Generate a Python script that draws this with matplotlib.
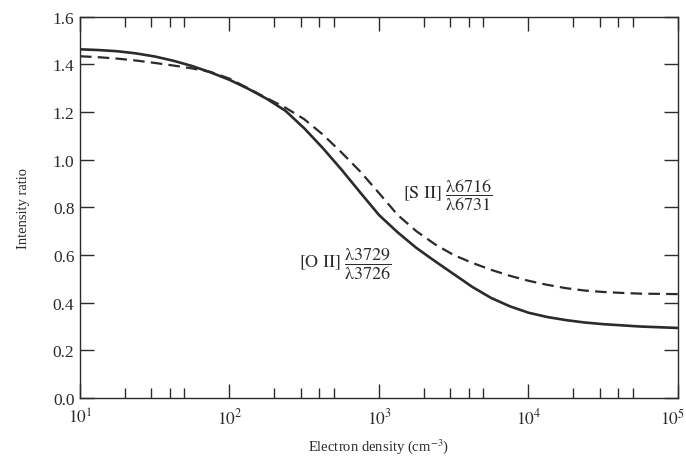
import math
import matplotlib
matplotlib.use("Agg")
import matplotlib.pyplot as plt
from matplotlib.ticker import (LogLocator, FormatStrFormatter, MultipleLocator,
                               NullFormatter, FuncFormatter)

plt.rcParams['font.family'] = ['Liberation Serif', 'DejaVu Serif']
plt.rcParams['mathtext.fontset'] = 'stix'

# electron density (cm^-3), read at eighth decades
density = [10, 13.3, 17.8, 23.7, 31.6, 42.2, 56.2, 75.0,
           100, 133, 178, 237, 316, 422, 562, 750,
           1000, 1334, 1778, 2371, 3162, 4217, 5623, 7499,
           10000, 13335, 17783, 23714, 31623, 42170, 56234, 74989,
           100000]

# [O II] 3729/3726 (solid)
ratio_oii = [1.463, 1.460, 1.455, 1.446, 1.433, 1.415, 1.393, 1.366,
             1.335, 1.298, 1.255, 1.205, 1.132, 1.048, 0.958, 0.862,
             0.768, 0.695, 0.630, 0.574, 0.520, 0.466, 0.420, 0.385,
             0.358, 0.340, 0.327, 0.317, 0.310, 0.305, 0.300, 0.297,
             0.294]

# [S II] 6716/6731 (dashed)
ratio_sii = [1.434, 1.430, 1.424, 1.416, 1.406, 1.395, 1.383, 1.368,
             1.340, 1.300, 1.258, 1.218, 1.170, 1.105, 1.030, 0.950,
             0.860, 0.768, 0.700, 0.645, 0.600, 0.567, 0.538, 0.513,
             0.492, 0.475, 0.461, 0.451, 0.445, 0.441, 0.438, 0.437,
             0.436]

x_max = 1e5
ink = '#2b2b2b'

fig = plt.figure(figsize=(6.86, 4.64), dpi=100, facecolor='white')
ax = fig.add_axes([0.1166, 0.140, 0.8717, 0.8219])

ax.plot(density, ratio_oii, color=ink, lw=1.9, solid_capstyle='butt')
dashed, = ax.plot(density, ratio_sii, color=ink, lw=1.6)
dashed.set_dashes((5.2, 2.8))

ax.set_xscale('log')
ax.set_xlim(10, x_max)
ax.set_ylim(0.0, 1.6)


def decade_label(v, pos):
    # last decade is drawn separately so it stays inside the figure
    if v >= x_max:
        return ''
    return r'$10^{%d}$' % round(math.log10(v))


ax.xaxis.set_major_locator(LogLocator(base=10, numticks=10))
ax.xaxis.set_major_formatter(FuncFormatter(decade_label))
ax.xaxis.set_minor_locator(LogLocator(base=10, subs=[2, 3, 4, 5], numticks=10))
ax.xaxis.set_minor_formatter(NullFormatter())
ax.yaxis.set_major_locator(MultipleLocator(0.2))
ax.yaxis.set_major_formatter(FormatStrFormatter('%.1f'))

ax.tick_params(which='both', direction='in', top=True, right=True,
               color=ink, labelcolor=ink, labelsize=12.5, width=1.0)
ax.tick_params(which='major', length=10, pad=7)
ax.tick_params(which='minor', length=7)
ax.tick_params(axis='y', which='major', pad=4)

for s in ax.spines.values():
    s.set_color(ink)
    s.set_linewidth(1.0)

ax.annotate(r'$10^{5}$', xy=(x_max, 0), xycoords=('data', 'axes fraction'),
            xytext=(-4, -7), textcoords='offset points',
            ha='center', va='top', fontsize=12.5, color=ink)

ax.set_xlabel('Electron density (cm$^{-3}$)', fontsize=10.5, color=ink, labelpad=6)
ax.set_ylabel('Intensity ratio', fontsize=10.5, color=ink, labelpad=16)

ax.text(290, 0.565, r'$[\mathrm{O\ II}]\ \dfrac{\mathrm{λ3729}}{\mathrm{λ3726}}$',
        fontsize=13, color=ink, ha='left', va='center')
ax.text(1450, 0.855, r'$[\mathrm{S\ II}]\ \dfrac{\mathrm{λ6716}}{\mathrm{λ6731}}$',
        fontsize=13, color=ink, ha='left', va='center')

fig.savefig('out.png', dpi=100, facecolor='white')
